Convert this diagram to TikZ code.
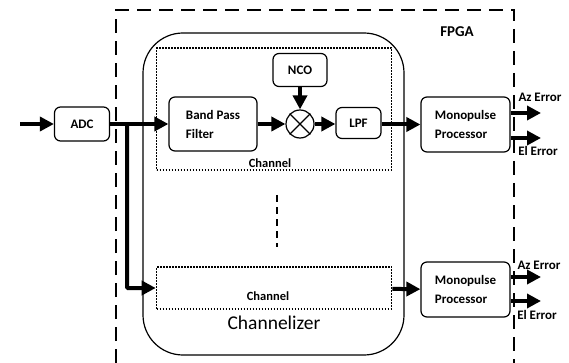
\documentclass[tikz,border=0pt]{standalone}
\usepackage{fontspec}
\setmainfont{Carlito}
\usetikzlibrary{arrows.meta}

\begin{document}
\begin{tikzpicture}[x=1pt,y=-1pt]

\tikzset{block/.style = {draw,rounded corners=6pt,line width=1.2pt,font=\bfseries\fontsize{13}{19}\selectfont,align=left,inner sep=0pt}}
\tikzset{edge/.style = {line width=4pt,-{Triangle[length=14pt,width=14pt]}}}
\tikzset{chanbox/.style = {draw,line width=1.6pt,dash pattern=on 1.6pt off 1.4pt,minimum width=235pt,inner sep=0pt}}
\tikzset{lbl/.style = {font=\bfseries\fontsize{13}{15}\selectfont,inner sep=0pt}}
\useasboundingbox (0,0) rectangle (569,363);

% fpga and channelizer
\draw[line width=1.8pt,dash pattern=on 14pt off 8pt] (116,363) -- (116,10) -- (514,10) -- (514,363);
\node[lbl,font=\bfseries\fontsize{15}{17}\selectfont] (fpga) at (457,32) {FPGA};
\node[draw,line width=1.2pt,rounded corners=40pt,minimum width=261pt,minimum height=322pt] (chz) at (273.5,194) {};
\node[inner sep=0pt,font=\fontsize{19.5}{21}\selectfont] (chzlbl) at (274,323) {Channelizer};

% vertices
\node[chanbox,minimum height=122pt] (ch1) at (274,109) {};
\node[chanbox,minimum height=42pt] (ch2) at (274,288) {};
\node[lbl,font=\bfseries\fontsize{12.5}{14}\selectfont] (ch1lbl) at (270,163) {Channel};
\node[lbl,font=\bfseries\fontsize{12.5}{14}\selectfont] (ch2lbl) at (268,296) {Channel};

\node[block,minimum width=55pt,minimum height=34pt] (adc) at (82,124) {ADC};
\node[block,minimum width=88pt,minimum height=54pt] (bpf) at (213,124) {Band Pass\\Filter};
\node[block,minimum width=54pt,minimum height=33pt] (nco) at (300,70) {NCO};
\node[draw,circle,line width=1.2pt,minimum size=28pt,inner sep=0pt] (mix) at (300,124) {};
\node[block,minimum width=45pt,minimum height=31pt] (lpf) at (358.5,123) {LPF};
\node[block,minimum width=89pt,minimum height=55pt] (mp1) at (465.5,124.5) {Monopulse\\Processor};
\node[block,minimum width=89pt,minimum height=55pt] (mp2) at (465.5,289.5) {Monopulse\\Processor};

\node[lbl] (az1) at (540,97) {Az Error};
\node[lbl] (el1) at (538,151) {El Error};
\node[lbl] (az2) at (539,265) {Az Error};
\node[lbl] (el2) at (537,315) {El Error};

\coordinate (in) at (20,124);
\coordinate (br) at (127,124);
\coordinate (az1e) at (541,113);
\coordinate (el1e) at (541,138);
\coordinate (az2e) at (541,277);
\coordinate (el2e) at (541,301);

%edges
\draw[line width=1.2pt] (mix.north west) -- (mix.south east);
\draw[line width=1.2pt] (mix.north east) -- (mix.south west);

\draw[edge] (in) to (adc);
\draw[edge] (adc) to (bpf);
\draw[edge,rounded corners=1pt] (br) |- (ch2.west);
\draw[edge] (bpf) to (mix);
\draw[edge] (nco) to (mix);
\draw[edge] (mix) to (lpf.west |- mix);
\draw[edge] (lpf.east |- mp1) to (mp1);
\draw[edge] (ch2) to (mp2);

\draw[edge] (mp1.east |- az1e) to (az1e);
\draw[edge] (mp1.east |- el1e) to (el1e);
\draw[edge] (mp2.east |- az2e) to (az2e);
\draw[edge] (mp2.east |- el2e) to (el2e);

\draw[line width=1.4pt,dash pattern=on 7pt off 5pt] (277,195) -- (277,247);

\end{tikzpicture}
\end{document}
